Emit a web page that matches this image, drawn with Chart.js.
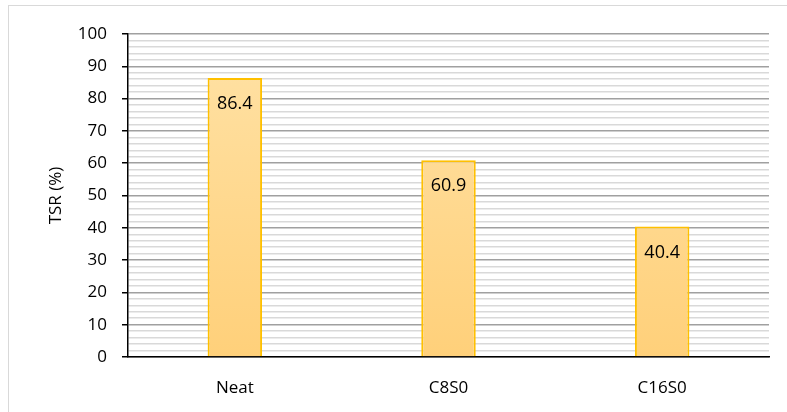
<!DOCTYPE html>
<html>
<head>
<meta charset="utf-8">
<script src="https://cdn.jsdelivr.net/npm/chart.js@4/dist/chart.umd.min.js"></script>
<style>
html,body{margin:0;padding:0;background:#fff;}
#wrap{width:787px;height:412px;position:relative;}
</style>
</head>
<body>
<div id="wrap"><canvas id="c" width="787" height="412"></canvas></div>
<script>
const categories = ["Neat", "C8S0", "C16S0"];
const tsrValues = [86.4, 60.9, 40.4];
const yTickLabels = [0, 10, 20, 30, 40, 50, 60, 70, 80, 90, 100];
const yAxisTitle = "TSR (%)";

const FONT = "'Open Sans', 'Liberation Sans', sans-serif";

const frame = {
  id: 'frame',
  beforeDraw(chart) {
    const ctx = chart.ctx;
    ctx.save();
    ctx.fillStyle = '#fff';
    ctx.fillRect(0, 0, chart.width, chart.height);
    ctx.strokeStyle = '#D9D9D9';
    ctx.lineWidth = 1;
    ctx.strokeRect(8.5, 5.5, chart.width + 10, chart.height + 10);
    ctx.restore();
  }
};

const valueLabels = {
  id: 'valueLabels',
  afterDatasetsDraw(chart) {
    const ctx = chart.ctx;
    const meta = chart.getDatasetMeta(0);
    ctx.save();
    ctx.fillStyle = '#000';
    ctx.font = "18px " + FONT;
    ctx.textAlign = 'center';
    ctx.textBaseline = 'middle';
    meta.data.forEach((bar, i) => {
      ctx.fillText(tsrValues[i].toFixed(1), bar.x, bar.y + 26);
    });
    ctx.restore();
  }
};

const ctx = document.getElementById('c').getContext('2d');

function barGradient(context) {
  const chart = context.chart;
  const area = chart.chartArea;
  if (!area) return '#FFD885';
  const g = chart.ctx.createLinearGradient(0, area.top, 0, area.bottom);
  g.addColorStop(0, '#FFE2A6');
  g.addColorStop(1, '#FFD07A');
  return g;
}

new Chart(ctx, {
  type: 'bar',
  data: {
    labels: categories,
    datasets: [{
      data: tsrValues,
      backgroundColor: barGradient,
      borderColor: '#FFC000',
      borderWidth: 2,
      borderSkipped: 'bottom',
      barPercentage: 0.255,
      categoryPercentage: 1.0
    }]
  },
  options: {
    responsive: false,
    animation: false,
    devicePixelRatio: 1,
    layout: { padding: { left: 46, right: 18, top: 34, bottom: 0 } },
    plugins: { legend: { display: false }, tooltip: { enabled: false } },
    scales: {
      x: {
        grid: { display: false },
        border: { color: '#000', width: 1.5 },
        ticks: { color: '#000', font: { family: FONT, size: 17 }, padding: 13 },
        afterFit(scale) { scale.height = 55; }
      },
      y: {
        min: 0,
        max: 100,
        afterBuildTicks(scale) {
          const t = [];
          for (let v = 0; v <= 100; v += 2) t.push({ value: v });
          scale.ticks = t;
        },
        ticks: {
          color: '#000',
          font: { family: FONT, size: 17 },
          padding: 15,
          autoSkip: false,
          callback(v) { return yTickLabels.includes(v) ? String(v) : ''; }
        },
        grid: {
          drawTicks: true,
          tickLength: 6,
          color(c) { return (c.tick && c.tick.value % 10 === 0) ? '#A0A0A0' : '#D9D9D9'; },
          lineWidth: 1.5,
          tickColor(c) { return (c.tick && c.tick.value % 10 === 0) ? '#000' : 'rgba(0,0,0,0)'; }
        },
        border: { color: '#000', width: 1.5 },
        title: {
          display: true,
          text: yAxisTitle,
          color: '#000',
          font: { family: FONT, size: 17 },
          padding: { top: 0, bottom: 0 }
        },
        afterFit(scale) { scale.width = 82; }
      }
    }
  },
  plugins: [frame, valueLabels]
});
</script>
</body>
</html>
